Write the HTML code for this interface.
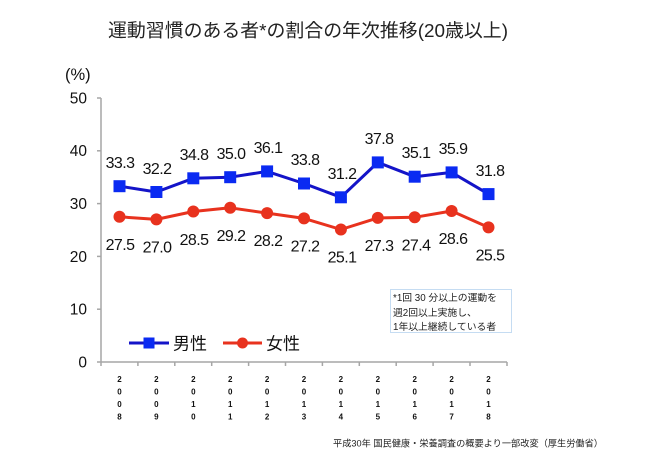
<!DOCTYPE html>
<html><head><meta charset="utf-8"><style>
html,body{margin:0;padding:0;background:#fff;}
svg{display:block;}
text{font-family:"Liberation Sans","Noto Sans CJK JP",sans-serif;}
</style></head><body>
<svg width="660" height="468" viewBox="0 0 660 468" xmlns="http://www.w3.org/2000/svg">
<rect width="660" height="468" fill="#fff"/>
<text x="308" y="37" font-size="18.5" fill="#222" text-anchor="middle" textLength="400" lengthAdjust="spacingAndGlyphs">運動習慣のある者*の割合の年次推移(20歳以上)</text>
<text x="65" y="80" font-size="16.5" fill="#111">(%)</text>
<!-- y axis labels -->
<g font-size="15.5" fill="#111" text-anchor="end">
<text x="87" y="103.5">50</text>
<text x="87" y="156">40</text>
<text x="87" y="209">30</text>
<text x="87" y="262">20</text>
<text x="87" y="314.5">10</text>
<text x="87" y="367.5">0</text>
</g>
<!-- axes -->
<g stroke="#a6a6a6" stroke-width="1.5" fill="none">
<line x1="101" y1="98" x2="101" y2="362"/>
<line x1="101" y1="362" x2="507" y2="362"/>
<line x1="97" y1="98" x2="101" y2="98"/>
<line x1="97" y1="150.8" x2="101" y2="150.8"/>
<line x1="97" y1="203.6" x2="101" y2="203.6"/>
<line x1="97" y1="256.4" x2="101" y2="256.4"/>
<line x1="97" y1="309.2" x2="101" y2="309.2"/>
<line x1="97" y1="362" x2="101" y2="362"/>
<line x1="101" y1="362" x2="101" y2="366"/>
<line x1="137.9" y1="362" x2="137.9" y2="366"/>
<line x1="174.8" y1="362" x2="174.8" y2="366"/>
<line x1="211.7" y1="362" x2="211.7" y2="366"/>
<line x1="248.6" y1="362" x2="248.6" y2="366"/>
<line x1="285.5" y1="362" x2="285.5" y2="366"/>
<line x1="322.4" y1="362" x2="322.4" y2="366"/>
<line x1="359.3" y1="362" x2="359.3" y2="366"/>
<line x1="396.2" y1="362" x2="396.2" y2="366"/>
<line x1="433.1" y1="362" x2="433.1" y2="366"/>
<line x1="470" y1="362" x2="470" y2="366"/>
<line x1="507" y1="362" x2="507" y2="366"/>
</g>
<!-- x labels -->
<g font-size="8" font-weight="bold" fill="#111" text-anchor="middle">
<text x="119.5" y="382">2</text><text x="119.5" y="394.5">0</text><text x="119.5" y="407">0</text><text x="119.5" y="419.5">8</text>
<text x="156.4" y="382">2</text><text x="156.4" y="394.5">0</text><text x="156.4" y="407">0</text><text x="156.4" y="419.5">9</text>
<text x="193.3" y="382">2</text><text x="193.3" y="394.5">0</text><text x="193.3" y="407">1</text><text x="193.3" y="419.5">0</text>
<text x="230.2" y="382">2</text><text x="230.2" y="394.5">0</text><text x="230.2" y="407">1</text><text x="230.2" y="419.5">1</text>
<text x="267.1" y="382">2</text><text x="267.1" y="394.5">0</text><text x="267.1" y="407">1</text><text x="267.1" y="419.5">2</text>
<text x="304" y="382">2</text><text x="304" y="394.5">0</text><text x="304" y="407">1</text><text x="304" y="419.5">3</text>
<text x="340.9" y="382">2</text><text x="340.9" y="394.5">0</text><text x="340.9" y="407">1</text><text x="340.9" y="419.5">4</text>
<text x="377.8" y="382">2</text><text x="377.8" y="394.5">0</text><text x="377.8" y="407">1</text><text x="377.8" y="419.5">5</text>
<text x="414.7" y="382">2</text><text x="414.7" y="394.5">0</text><text x="414.7" y="407">1</text><text x="414.7" y="419.5">6</text>
<text x="451.6" y="382">2</text><text x="451.6" y="394.5">0</text><text x="451.6" y="407">1</text><text x="451.6" y="419.5">7</text>
<text x="488.5" y="382">2</text><text x="488.5" y="394.5">0</text><text x="488.5" y="407">1</text><text x="488.5" y="419.5">8</text>
</g>
<!-- male series -->
<polyline fill="none" stroke="#1414c8" stroke-width="3" stroke-linejoin="round" points="119.5,186.2 156.4,192 193.3,178.3 230.2,177.2 267.1,171.4 304,183.5 340.9,197.3 377.8,162.4 414.7,176.7 451.6,172.4 488.5,194.1"/>
<g fill="#0a2af2">
<rect x="113.5" y="180.2" width="12" height="12"/>
<rect x="150.4" y="186" width="12" height="12"/>
<rect x="187.3" y="172.3" width="12" height="12"/>
<rect x="224.2" y="171.2" width="12" height="12"/>
<rect x="261.1" y="165.4" width="12" height="12"/>
<rect x="298" y="177.5" width="12" height="12"/>
<rect x="334.9" y="191.3" width="12" height="12"/>
<rect x="371.8" y="156.4" width="12" height="12"/>
<rect x="408.7" y="170.7" width="12" height="12"/>
<rect x="445.6" y="166.4" width="12" height="12"/>
<rect x="482.5" y="188.1" width="12" height="12"/>
</g>
<!-- female series -->
<polyline fill="none" stroke="#e8321e" stroke-width="3" stroke-linejoin="round" points="119.5,216.8 156.4,219.4 193.3,211.5 230.2,207.8 267.1,213.1 304,218.4 340.9,229.5 377.8,217.9 414.7,217.3 451.6,211 488.5,227.4"/>
<g fill="#e8321e">
<circle cx="119.5" cy="216.8" r="6"/>
<circle cx="156.4" cy="219.4" r="6"/>
<circle cx="193.3" cy="211.5" r="6"/>
<circle cx="230.2" cy="207.8" r="6"/>
<circle cx="267.1" cy="213.1" r="6"/>
<circle cx="304" cy="218.4" r="6"/>
<circle cx="340.9" cy="229.5" r="6"/>
<circle cx="377.8" cy="217.9" r="6"/>
<circle cx="414.7" cy="217.3" r="6"/>
<circle cx="451.6" cy="211" r="6"/>
<circle cx="488.5" cy="227.4" r="6"/>
</g>
<!-- male labels -->
<g font-size="16" fill="#111" text-anchor="middle" letter-spacing="-0.6">
<text x="120" y="168">33.3</text>
<text x="157" y="174">32.2</text>
<text x="194" y="160">34.8</text>
<text x="231" y="159">35.0</text>
<text x="268" y="153">36.1</text>
<text x="305" y="165">33.8</text>
<text x="342" y="179">31.2</text>
<text x="379" y="144">37.8</text>
<text x="416" y="158">35.1</text>
<text x="453" y="154">35.9</text>
<text x="490" y="176">31.8</text>
</g>
<!-- female labels -->
<g font-size="16" fill="#111" text-anchor="middle" letter-spacing="-0.6">
<text x="120" y="250">27.5</text>
<text x="157" y="252.5">27.0</text>
<text x="194" y="245">28.5</text>
<text x="231" y="241">29.2</text>
<text x="268" y="246">28.2</text>
<text x="305" y="251.5">27.2</text>
<text x="342" y="262.5">25.1</text>
<text x="379" y="251">27.3</text>
<text x="416" y="250.5">27.4</text>
<text x="453" y="244">28.6</text>
<text x="490" y="260.5">25.5</text>
</g>
<!-- legend -->
<line x1="129" y1="343" x2="169" y2="343" stroke="#1414c8" stroke-width="3"/>
<rect x="143.5" y="337.5" width="11" height="11" fill="#0a2af2"/>
<text x="173" y="349.5" font-size="17" fill="#111">男性</text>
<line x1="223" y1="343" x2="262" y2="343" stroke="#e8321e" stroke-width="3"/>
<circle cx="242.5" cy="343" r="5.5" fill="#e8321e"/>
<text x="266" y="349.5" font-size="17" fill="#111">女性</text>
<!-- note box -->
<rect x="390.5" y="289.5" width="121" height="43" fill="#fff" stroke="#c5dcf2" stroke-width="1"/>
<g font-size="9.8" fill="#222">
<text x="393" y="301">*1回 30 分以上の運動を</text>
<text x="393" y="316">週2回以上実施し、</text>
<text x="393" y="330">1年以上継続している者</text>
</g>
<text x="333" y="446.5" font-size="9.3" fill="#222" textLength="270" lengthAdjust="spacingAndGlyphs">平成30年 国民健康・栄養調査の概要より一部改変（厚生労働省）</text>
</svg>
</body></html>
